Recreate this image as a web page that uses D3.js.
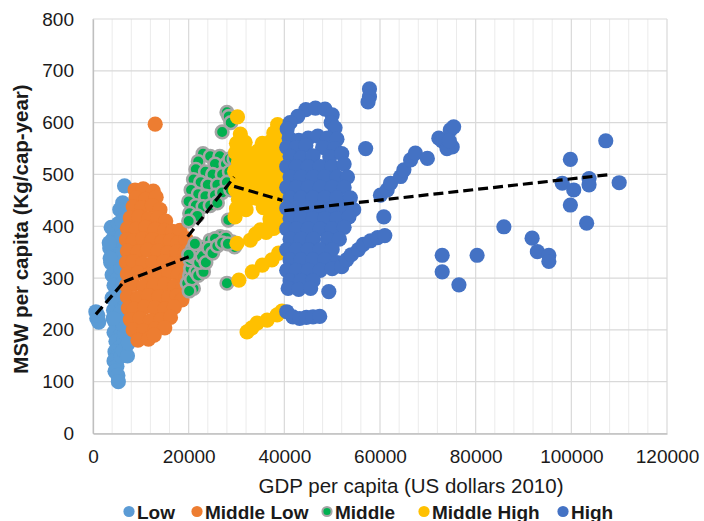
<!DOCTYPE html>
<html>
<head>
<meta charset="utf-8">
<script src="https://cdn.jsdelivr.net/npm/d3@7"></script>
<style>
  html, body { margin: 0; padding: 0; background: #fff; }
  svg { display: block; font-family: "Liberation Sans", Arial, sans-serif; }
</style>
</head>
<body>
<svg id="chart" width="704" height="521"></svg>
<script>
// Municipal solid waste vs GDP per capita, by income group

const xTicks = [0, 20000, 40000, 60000, 80000, 100000, 120000];
const yTicks = [0, 100, 200, 300, 400, 500, 600, 700, 800];

const groupNames = ["Low", "Middle Low", "Middle", "Middle High", "High"];

// [GDP per capita, MSW per capita]
const lowPts = [
  [600,235],[800,222],[1200,215],[1000,228],
  [6600,478],[6200,445],[5600,432],[6900,425],[3800,398],[4600,395],[5300,405],[6000,410],
  [4200,376],[5000,368],[3500,358],[4300,346],[5400,342],[3700,330],[4700,322],[4000,306],[5200,300],
  [4400,286],[5600,276],[4600,262],[5000,250],[4300,238],[5400,228],[4600,215],[5200,205],
  [4400,195],[5600,188],[4800,178],[6200,172],[5400,165],[6900,168],[6500,182],[4600,158],
  [5200,150],[4400,140],[5000,130],[4600,120],[5200,112],[5300,100],[6600,195],[6300,210],
  [5900,235],[6400,262],[6200,290],[5800,320],[6300,350],[6000,380],[3400,368],[3600,338],
  [4000,262],[4200,222],[5900,150],[6300,160],[7200,150],[7400,175]
];

const midLowPts = [
  [13000,597],
  [8800,470],[10500,472],[12600,468],
  [9000,455],[11000,452],[13200,456],
  [8400,438],[10200,436],[12400,440],[14000,432],
  [7800,416],[9600,418],[11600,414],[13600,416],[15200,410],
  [7200,396],[9000,394],[11000,398],[13000,394],[15000,392],[16600,390],[18200,392],
  [7000,374],[8400,372],[10400,376],[12400,374],[14400,370],[16200,372],[17800,368],[19400,376],
  [7200,352],[9400,350],[11400,354],[13600,352],[15600,348],[17600,350],[19300,350],
  [7000,330],[8400,332],[10400,328],[12600,330],[14800,332],[16800,328],[18800,330],[19800,318],
  [7200,308],[9400,310],[11600,306],[13800,308],[15800,310],[17800,306],[19400,300],
  [7000,286],[8400,288],[10600,284],[12800,286],[15000,288],[17000,284],[18800,282],
  [7200,264],[9400,262],[11600,266],[13800,264],[15800,262],[17600,266],[18600,258],
  [7400,242],[8600,240],[10800,244],[13000,242],[15000,240],[17000,244],
  [7800,220],[9800,222],[12000,218],[14200,220],[16200,224],
  [8400,200],[10600,198],[13000,202],[15000,204],
  [9400,180],[11600,182],[12800,190]
];

const middlePts = [
  [28000,620],[28400,612],[28800,600],[27000,582],
  [23000,540],[24500,535],[26500,535],[22000,525],[25500,520],[27800,520],[28600,530],
  [21500,510],[23500,505],[25000,500],[27000,500],[28500,505],
  [21000,490],[22500,485],[24000,480],[26000,480],[28000,485],
  [20500,470],[22000,462],[23500,458],[25500,460],[27000,465],[28800,470],
  [20000,448],[21500,440],[23000,438],[24500,440],[26000,445],
  [20200,425],[21800,420],[20000,410],[28300,412],[29500,530],
  [19700,290],[20200,305],[20400,318],[20300,335],[21000,280],[20600,298],[21500,312],
  [21000,341],[22000,305],[23100,312],[22500,360],[24500,373],[26600,380],[29100,370],
  [23500,352],[25500,376],[27800,378],[28000,290],[29600,360],[20100,275],
  [21700,350],[22200,330],[22800,342],[23600,330],[24200,358],[25000,348],[26000,362],
  [27000,368],[28200,366],[20800,356],[21300,366],[20000,345]
];

const midHighPts = [
  [30200,611],[38600,596],
  [30800,578],[37800,580],[39300,585],
  [30000,560],[31800,562],[35400,560],[37200,564],[38800,566],
  [29800,542],[31400,544],[33000,540],[34600,546],[36400,542],[38400,544],
  [30400,524],[32000,522],[33800,526],[35400,522],[37200,524],[39000,528],
  [29600,506],[31200,504],[33000,508],[34600,504],[36400,506],[38200,508],
  [30200,488],[32000,486],[34000,490],[35600,486],[37400,488],[39200,490],
  [29800,470],[31400,468],[33000,472],[35000,468],[36800,470],[38400,472],
  [30400,452],[32200,450],[34200,454],[36000,450],[37800,452],[39400,456],
  [30000,434],[32000,432],[35600,436],[37400,432],[39000,438],
  [29700,418],[37000,414],[38800,418],
  [32900,373],[34000,385],[35000,393],[37100,406],[38500,418],[39400,428],[30100,367],
  [36200,388],[37800,396],[39000,402],
  [30500,296],[33300,312],[35400,325],[37400,335],[38800,348],
  [32200,196],[33200,204],[34300,213],[36400,219],[38500,229],[39500,236]
];

const highPts = [
  [44500,625],[46500,628],[48500,626],[42800,612],[50000,615],[41200,600],[49800,600],[40600,588],[50600,590],
  [41000,570],[43000,566],[45000,570],[47000,574],[49000,570],[51000,568],
  [40500,552],[42500,552],[44500,556],[48000,552],[50500,550],
  [41200,535],[43500,532],[46000,536],[49500,534],[52000,540],
  [40500,515],[42500,515],[45000,515],[47500,515],[50000,515],[52500,520],
  [41200,495],[43500,495],[46000,495],[48500,495],[51000,495],[53200,495],
  [40500,475],[42500,475],[45000,475],[47500,475],[50000,475],[52500,475],
  [41200,455],[43500,455],[46000,455],[48500,455],[51000,455],[53800,455],
  [40500,435],[42500,435],[45000,435],[47500,435],[50000,435],[52500,435],[54500,432],
  [41200,415],[43500,415],[46000,415],[48500,415],[51000,415],[53500,418],
  [40500,395],[42500,395],[45000,395],[47500,395],[50000,395],[52500,398],
  [41200,375],[43500,375],[46000,375],[49000,375],[51500,375],
  [40500,355],[42500,355],[45000,355],[47500,355],[50000,355],
  [41200,335],[43500,335],[46000,335],[48500,335],[51000,330],
  [40500,315],[42500,315],[45000,315],[47500,315],[50000,318],
  [41200,295],[43500,295],[46000,295],[40800,280],[43000,278],[45500,280],[49300,274],
  [40500,235],[41800,225],[43200,222],[44600,224],[46000,225],[47400,226],
  [57800,665],[57800,650],[57500,640],[57000,550],
  [52000,322],[53000,335],[54000,345],[55500,355],[56500,365],[58000,372],[59500,378],[61000,382],[60800,418],
  [60100,460],[61500,470],[62200,483],[64300,496],[65000,509],[66400,528],[67400,541],[69900,531],
  [72300,570],[73000,565],[74700,586],[75400,592],[75100,553],[74000,550],[74500,565],
  [73000,344],[73000,312],[76500,287],[80300,344],[85900,399],
  [91800,377],[92900,351],[95300,344],[95300,332],
  [99800,529],[98100,483],[100500,470],[99800,441],[103700,492],[103700,480],[103200,406],
  [107200,565],[110000,484]
];

// Fitted trend segments per income group
const trendLow = [[600,230],[6500,293]];
const trendMidLow = [[6500,293],[20000,341]];
const trendMiddle = [[19800,380],[29500,495]];
const trendMidHigh = [[29500,477],[39600,450]];
const trendHigh = [[40000,430],[108300,500]];

const colors = {
  "Low": "#5B9BD5",
  "Middle Low": "#ED7D31",
  "Middle": "#00B050",
  "Middle High": "#FFC000",
  "High": "#4472C4"
};

const svg = d3.select("#chart");
const plotLeft = 93, plotRight = 667, plotTop = 19, plotBottom = 433.5;

const x = d3.scaleLinear().domain([0, 120000]).range([plotLeft, plotRight]);
const y = d3.scaleLinear().domain([0, 800]).range([plotBottom, plotTop]);

// minor vertical grid every 4000
const minorX = d3.range(0, 120001, 4000).filter(v => v % 20000 !== 0);
svg.append("g").selectAll("line").data(minorX).join("line")
  .attr("x1", d => x(d)).attr("x2", d => x(d))
  .attr("y1", plotTop).attr("y2", plotBottom)
  .attr("stroke", "#ebebeb").attr("stroke-width", 1);

// major grid
svg.append("g").selectAll("line").data(xTicks).join("line")
  .attr("x1", d => x(d)).attr("x2", d => x(d))
  .attr("y1", plotTop).attr("y2", plotBottom)
  .attr("stroke", "#d9d9d9").attr("stroke-width", 1.2);
svg.append("g").selectAll("line").data(yTicks).join("line")
  .attr("x1", plotLeft).attr("x2", plotRight)
  .attr("y1", d => y(d)).attr("y2", d => y(d))
  .attr("stroke", "#d9d9d9").attr("stroke-width", 1.2);

// axes
const xAxis = svg.append("g").attr("transform", `translate(0,${plotBottom})`)
  .call(d3.axisBottom(x).tickValues(xTicks).tickSize(0).tickPadding(16).tickFormat(d3.format("d")));
const yAxis = svg.append("g").attr("transform", `translate(${plotLeft},0)`)
  .call(d3.axisLeft(y).tickValues(yTicks).tickSize(0).tickPadding(19).tickFormat(d3.format("d")));
[xAxis, yAxis].forEach(g => {
  g.select(".domain").attr("stroke", "#bfbfbf").attr("stroke-width", 1.3);
  g.selectAll("text").attr("font-size", 19).attr("fill", "#1a1a1a")
    .attr("font-family", "'Liberation Sans', Arial, sans-serif");
});

// points
function drawPoints(pts, name) {
  const g = svg.append("g");
  const c = g.selectAll("circle").data(pts).join("circle")
    .attr("cx", d => x(d[0])).attr("cy", d => y(d[1]));
  if (name === "Middle") {
    c.attr("r", 6.3).attr("fill", colors[name]).attr("stroke", "#A5A5A5").attr("stroke-width", 2.6);
  } else {
    c.attr("r", 7.6).attr("fill", colors[name]);
  }
}
drawPoints(lowPts, "Low");
drawPoints(midLowPts, "Middle Low");
drawPoints(middlePts, "Middle");
drawPoints(midHighPts, "Middle High");
drawPoints(highPts, "High");

// trend lines
const line = d3.line().x(d => x(d[0])).y(d => y(d[1]));
[trendLow, trendMidLow, trendMiddle, trendMidHigh, trendHigh].forEach(seg => {
  svg.append("path").datum(seg).attr("d", line)
    .attr("fill", "none").attr("stroke", "#000").attr("stroke-width", 3.2)
    .attr("stroke-dasharray", "10,5");
});

// axis titles
svg.append("text").attr("x", 411).attr("y", 493).attr("text-anchor", "middle")
  .attr("font-size", 20.5).attr("fill", "#1a1a1a").text("GDP per capita (US dollars 2010)");
svg.append("text").attr("transform", "translate(28,229) rotate(-90)").attr("text-anchor", "middle")
  .attr("font-size", 20.5).attr("font-weight", "bold").attr("fill", "#1a1a1a")
  .text("MSW per capita (Kg/cap-year)");

// legend
const legendPos = [129, 197, 327, 424, 563];
const lg = svg.append("g");
groupNames.forEach((n, i) => {
  const cx = legendPos[i];
  const c = lg.append("circle").attr("cx", cx).attr("cy", 511.5);
  if (n === "Middle") c.attr("r", 4.6).attr("fill", colors[n]).attr("stroke", "#A5A5A5").attr("stroke-width", 2);
  else c.attr("r", 5.6).attr("fill", colors[n]);
  lg.append("text").attr("x", cx + 8).attr("y", 518.5)
    .attr("font-size", 19).attr("font-weight", "bold").attr("fill", "#1a1a1a").text(n);
});
</script>
</body>
</html>
